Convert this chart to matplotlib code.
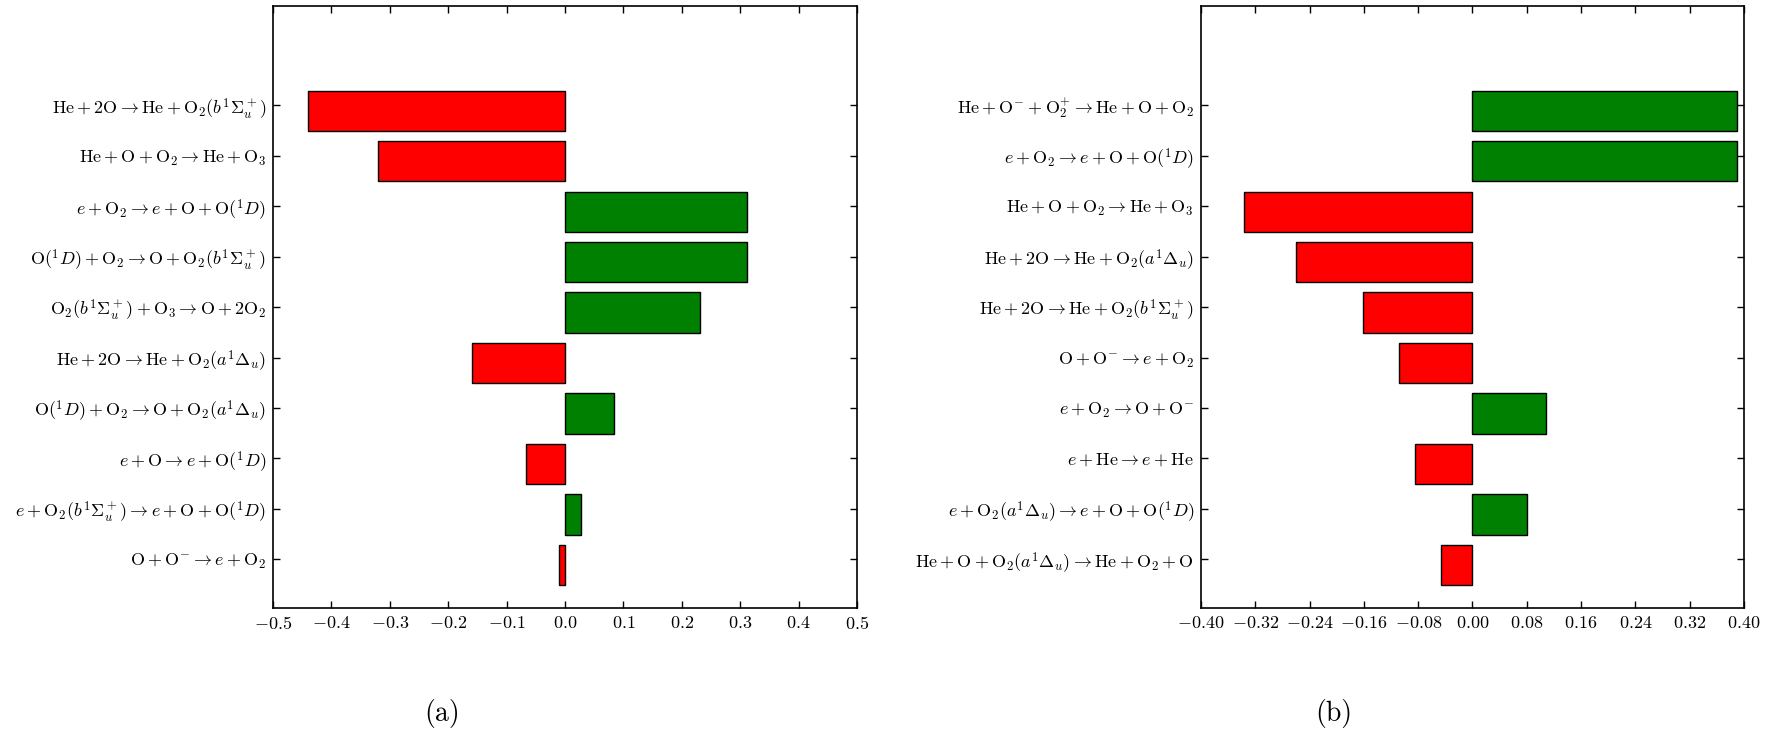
import numpy as np
import matplotlib
matplotlib.use("Agg")
import matplotlib.pyplot as plt
from matplotlib.ticker import FormatStrFormatter

plt.rcParams["font.family"] = "serif"
plt.rcParams["font.serif"] = ["cmr10"]
plt.rcParams["mathtext.fontset"] = "cm"
plt.rcParams["axes.formatter.use_mathtext"] = True

# panel (a)
labels_a = [
    r"$\mathrm{He} + 2\mathrm{O} \rightarrow \mathrm{He} + \mathrm{O}_2(b^1\Sigma_u^+)$",
    r"$\mathrm{He} + \mathrm{O} + \mathrm{O}_2 \rightarrow \mathrm{He} + \mathrm{O}_3$",
    r"$e + \mathrm{O}_2 \rightarrow e + \mathrm{O} + \mathrm{O}(^1D)$",
    r"$\mathrm{O}(^1D) + \mathrm{O}_2 \rightarrow \mathrm{O} + \mathrm{O}_2(b^1\Sigma_u^+)$",
    r"$\mathrm{O}_2(b^1\Sigma_u^+) + \mathrm{O}_3 \rightarrow \mathrm{O} + 2\mathrm{O}_2$",
    r"$\mathrm{He} + 2\mathrm{O} \rightarrow \mathrm{He} + \mathrm{O}_2(a^1\Delta_u)$",
    r"$\mathrm{O}(^1D) + \mathrm{O}_2 \rightarrow \mathrm{O} + \mathrm{O}_2(a^1\Delta_u)$",
    r"$e + \mathrm{O} \rightarrow e + \mathrm{O}(^1D)$",
    r"$e + \mathrm{O}_2(b^1\Sigma_u^+) \rightarrow e + \mathrm{O} + \mathrm{O}(^1D)$",
    r"$\mathrm{O} + \mathrm{O}^{-} \rightarrow e + \mathrm{O}_2$",
]
values_a = [-0.44, -0.32, 0.311, 0.311, 0.231, -0.160, 0.084, -0.067, 0.028, -0.011]

# panel (b)
labels_b = [
    r"$\mathrm{He} + \mathrm{O}^{-} + \mathrm{O}_2^{+} \rightarrow \mathrm{He} + \mathrm{O} + \mathrm{O}_2$",
    r"$e + \mathrm{O}_2 \rightarrow e + \mathrm{O} + \mathrm{O}(^1D)$",
    r"$\mathrm{He} + \mathrm{O} + \mathrm{O}_2 \rightarrow \mathrm{He} + \mathrm{O}_3$",
    r"$\mathrm{He} + 2\mathrm{O} \rightarrow \mathrm{He} + \mathrm{O}_2(a^1\Delta_u)$",
    r"$\mathrm{He} + 2\mathrm{O} \rightarrow \mathrm{He} + \mathrm{O}_2(b^1\Sigma_u^+)$",
    r"$\mathrm{O} + \mathrm{O}^{-} \rightarrow e + \mathrm{O}_2$",
    r"$e + \mathrm{O}_2 \rightarrow \mathrm{O} + \mathrm{O}^{-}$",
    r"$e + \mathrm{He} \rightarrow e + \mathrm{He}$",
    r"$e + \mathrm{O}_2(a^1\Delta_u) \rightarrow e + \mathrm{O} + \mathrm{O}(^1D)$",
    r"$\mathrm{He} + \mathrm{O} + \mathrm{O}_2(a^1\Delta_u) \rightarrow \mathrm{He} + \mathrm{O}_2 + \mathrm{O}$",
]
values_b = [0.389, 0.389, -0.336, -0.260, -0.162, -0.108, 0.108, -0.084, 0.081, -0.046]

xticks_a = [-0.5, -0.4, -0.3, -0.2, -0.1, 0.0, 0.1, 0.2, 0.3, 0.4, 0.5]
xticks_b = [-0.40, -0.32, -0.24, -0.16, -0.08, 0.0, 0.08, 0.16, 0.24, 0.32, 0.40]


def draw(ax, labels, values, xticks, fmt):
    pos = np.arange(len(values))
    colors = ["green" if v > 0 else "red" for v in values]
    ax.barh(pos, values, height=0.8, color=colors, edgecolor="black", linewidth=1.0)
    # tick marks sit a little above the bar centres, as in the original
    ax.set_yticks(pos - 0.11)
    ax.set_yticklabels(labels, fontsize=13)
    ax.set_ylim(len(values) - 1 + 0.85, -2.08)
    ax.set_xlim(xticks[0], xticks[-1])
    ax.set_xticks(xticks)
    ax.xaxis.set_major_formatter(FormatStrFormatter(fmt))
    ax.tick_params(direction="in", top=True, right=True, length=5, width=1,
                   labelsize=13, pad=5)
    for s in ax.spines.values():
        s.set_linewidth(1.2)


fig = plt.figure(figsize=(17.76, 7.34), dpi=100)
ax1 = fig.add_axes([0.1537, 0.172, 0.3288, 0.820])
ax2 = fig.add_axes([0.6762, 0.172, 0.3058, 0.820])

draw(ax1, labels_a, values_a, xticks_a, "$%.1f$")
draw(ax2, labels_b, values_b, xticks_b, "$%.2f$")

fig.text(442 / 1776, 1 - 713 / 734, "(a)", ha="center", va="center", fontsize=20)
fig.text(1334 / 1776, 1 - 713 / 734, "(b)", ha="center", va="center", fontsize=20)

fig.savefig("out.png", dpi=100)
